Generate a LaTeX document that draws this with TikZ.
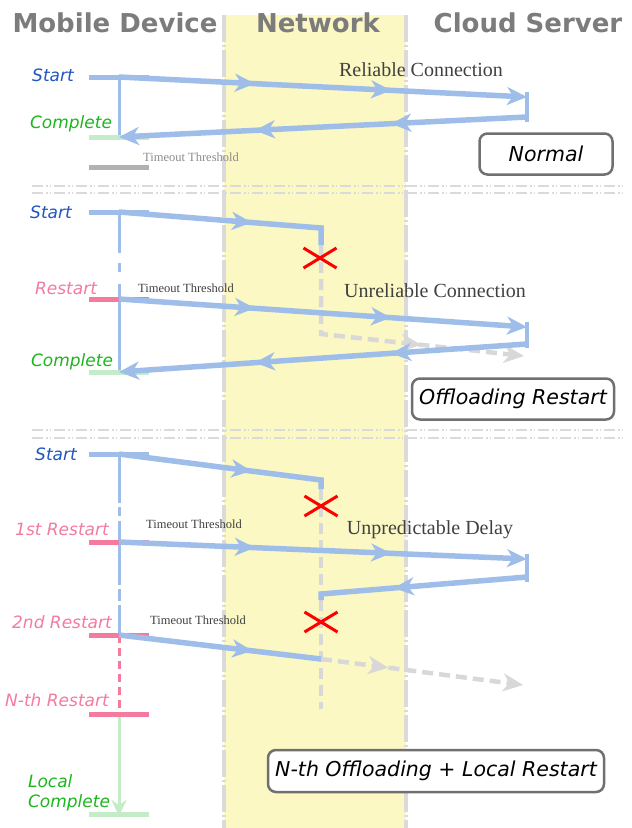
\documentclass[tikz,border=0pt]{standalone}
\usepackage{fontspec}
\setmainfont{Liberation Serif}
\setsansfont{DejaVu Sans}
\usetikzlibrary{arrows.meta,decorations.markings,shapes.misc,positioning}

\definecolor{lblue}{RGB}{158,190,233}
\definecolor{sblue}{RGB}{32,86,190}
\definecolor{cgreen}{RGB}{28,182,28}
\definecolor{lgreen}{RGB}{196,236,200}
\definecolor{lpink}{RGB}{244,122,158}
\definecolor{band}{RGB}{251,248,196}
\definecolor{edgegray}{RGB}{218,218,218}
\definecolor{hgray}{RGB}{124,124,124}
\definecolor{dgray}{RGB}{216,216,216}
\definecolor{boxgray}{RGB}{112,112,112}
\definecolor{cgray}{RGB}{64,64,64}

\begin{document}
\begin{tikzpicture}
  [
   x=1pt,y=-1pt,
   >={Stealth[length=20pt,width=18pt,inset=6pt]},
   hd/.style={font=\sffamily\bfseries\fontsize{26}{30}\selectfont,text=hgray,inner sep=0pt},
   bl/.style={font=\sffamily\itshape\fontsize{17}{20}\selectfont,text=sblue,inner sep=0pt},
   gl/.style={bl,text=cgreen},
   pl/.style={bl,text=lpink},
   tt/.style={font=\fontsize{12.5}{14}\selectfont,text=cgray,inner sep=0pt},
   cn/.style={font=\fontsize{20}{24}\selectfont,text=cgray,inner sep=0pt},
   bx/.style={draw=boxgray,line width=2.5pt,rounded corners=8pt,fill=white,
              font=\sffamily\itshape\fontsize{20.5}{24}\selectfont,inner sep=0pt,minimum height=41pt},
   ln/.style={line width=5.5pt,draw=lblue,color=lblue},
   tl/.style={line width=3pt,draw=lblue},
   gd/.style={line width=4.5pt,draw=dgray,color=dgray,dash pattern=on 11pt off 6pt},
   tbar/.style={line width=5pt},
   xm/.style={cross out,draw=red,line width=3pt,minimum width=30pt,minimum height=17pt,inner sep=0pt},
   edge/.style={line width=4pt,draw=edgegray,dash pattern=on 27pt off 3pt on 2pt off 3pt},
   sep/.style={line width=2.5pt,draw=edgegray,dash pattern=on 11pt off 3pt on 1.5pt off 2pt on 1.5pt off 3pt},
   m1/.style={postaction={decorate},decoration={markings,mark=at position #1 with {\arrow{>}}}},
   m2/.style 2 args={postaction={decorate},decoration={markings,
      mark=at position #1 with {\arrow{>}},mark=at position #2 with {\arrow{>}}}}
  ]
   \useasboundingbox (0,0) rectangle (632,828);

   \fill[band] (224,15) rectangle (406,828);
   \draw[edge] (224,15) -- (224,828);
   \draw[edge] (406,15) -- (406,828);
   \foreach \y in {186,193,430,438}
     \draw[sep] (32,\y) -- (626,\y);

   \node[hd] (hmob) at (115,23) {Mobile Device};
   \node[hd] (hnet) at (318,23) {Network};
   \node[hd] (hcld) at (528,23) {Cloud Server};

   % normal
   \coordinate (s1) at (119,77);
   \coordinate (e1) at (119,137);
   \coordinate (t1) at (119,167);
   \coordinate (srv1in) at (527,97);
   \coordinate (srv1out) at (527,117);
   \coordinate (srv1top) at (527,92);
   \coordinate (srv1bot) at (527,122);

   \draw[tl] (s1) -- (e1);
   \draw[tbar,lblue] ([xshift=-30]s1) -- ([xshift=30]s1);
   \draw[tbar,lgreen] ([xshift=-30]e1) -- ([xshift=30]e1);
   \draw[tbar,black!30] ([xshift=-30]t1) -- ([xshift=30]t1);
   \draw[ln,->,m2={0.333}{0.667}] (s1) -- (srv1in);
   \draw[ln,line width=4pt] (srv1top) -- (srv1bot);
   \draw[ln,->,m2={0.333}{0.667}] (srv1out) -- (e1);

   \node[bl] (st1) at (53,75) {Start};
   \node[gl] (cp1) at (71,124) {Complete};
   \node[tt,text=black!45] (to1) at (191,157) {Timeout Threshold};
   \node[cn] (rc1) at (421,70) {Reliable Connection};
   \node[bx,minimum width=133pt] (nm1) at (546,154) {Normal};

   % offloading restart
   \coordinate (s2) at (119,212);
   \coordinate (drop2) at (321,228);
   \coordinate (lost2) at (321,245);
   \coordinate (turn2) at (321,334);
   \coordinate (miss2) at (524,356);
   \coordinate (r2) at (119,299);
   \coordinate (e2) at (119,372);
   \coordinate (srv2in) at (527,327);
   \coordinate (srv2out) at (527,344);
   \coordinate (srv2top) at (527,322);
   \coordinate (srv2bot) at (527,348);

   \draw[tl,dash pattern=on 41pt off 10pt on 9pt off 12pt on 200pt] (s2) -- (e2);
   \draw[gd,->,m1={0.647}] (lost2) -- (turn2) -- (miss2);
   \draw[tbar,lblue] ([xshift=-30]s2) -- ([xshift=30]s2);
   \draw[tbar,lpink] ([xshift=-30]r2) -- ([xshift=30]r2);
   \draw[tbar,lgreen] ([xshift=-30]e2) -- ([xshift=30]e2);
   \draw[ln,m1={0.607}] (s2) -- (drop2) -- (lost2);
   \draw[ln,->,m2={0.333}{0.667}] (r2) -- (srv2in);
   \draw[ln,line width=4pt] (srv2top) -- (srv2bot);
   \draw[ln,->,m2={0.333}{0.667}] (srv2out) -- (e2);
   \node[xm] (x2) at (320,258) {};

   \node[bl] (st2) at (51,212) {Start};
   \node[pl] (rs2) at (66,288) {Restart};
   \node[gl] (cp2) at (72,362) {Complete};
   \node[tt] (to2) at (186,288) {Timeout Threshold};
   \node[cn] (uc2) at (435,291) {Unreliable Connection};
   \node[bx,minimum width=202pt] (of2) at (513,399) {Offloading Restart};

   % n-th offloading + local restart
   \coordinate (s3) at (119,454);
   \coordinate (drop3) at (321,480);
   \coordinate (lost3) at (321,489);
   \coordinate (end3) at (321,590);
   \coordinate (r31) at (119,542);
   \coordinate (srv3in) at (527,559);
   \coordinate (srv3out) at (527,577);
   \coordinate (srv3top) at (527,554);
   \coordinate (srv3bot) at (527,582);
   \coordinate (back3) at (321,594);
   \coordinate (lost3b) at (321,600);
   \coordinate (end3b) at (321,709);
   \coordinate (r32) at (119,635);
   \coordinate (drop32) at (321,659);
   \coordinate (miss3) at (523,685);
   \coordinate (rn3) at (119,714);
   \coordinate (lc3) at (119,814);

   \draw[tl,dash pattern=on 49pt off 4pt on 9pt off 5pt on 64pt off 4pt on 12pt off 4pt on 100pt] (s3) -- (r32);
   \draw[line width=3pt,lpink,dash pattern=on 8pt off 5pt] (r32) -- (rn3);
   \draw[line width=3pt,lgreen,-{Stealth[length=16pt,width=15pt,inset=5pt]}] (rn3) -- ([yshift=-2]lc3);
   \draw[gd] (lost3) -- (end3);
   \draw[gd] (lost3b) -- (end3b);
   \draw[gd,->,m1={0.333}] (drop32) -- (miss3);
   \draw[tbar,lblue] ([xshift=-30]s3) -- ([xshift=30]s3);
   \draw[tbar,lpink] ([xshift=-30]r31) -- ([xshift=30]r31);
   \draw[tbar,lpink] ([xshift=-30]r32) -- ([xshift=30]r32);
   \draw[tbar,lpink] ([xshift=-30]rn3) -- ([xshift=30]rn3);
   \draw[tbar,lgreen] ([xshift=-30]lc3) -- ([xshift=30]lc3);
   \draw[ln,m1={0.628}] (s3) -- (drop3) -- (lost3);
   \draw[ln,->,m2={0.333}{0.667}] (r31) -- (srv3in);
   \draw[ln,line width=4pt] (srv3top) -- (srv3bot);
   \draw[ln,m1={0.628}] (srv3out) -- (back3) -- (lost3b);
   \draw[ln,m1={0.66}] (r32) -- (drop32);
   \node[xm] (x31) at (321,506) {};
   \node[xm] (x32) at (321,622) {};

   \node[bl] (st3) at (56,454) {Start};
   \node[pl] (rs31) at (62,529) {1st Restart};
   \node[tt] (to31) at (194,524) {Timeout Threshold};
   \node[cn] (ud3) at (430,530) {Unpredictable Delay};
   \node[pl] (rs32) at (62,622) {2nd Restart};
   \node[tt] (to32) at (198,620) {Timeout Threshold};
   \node[pl] (rsn3) at (57,700) {N-th Restart};
   \node[gl,align=left] (lcp3) at (69,793) {Local\\Complete};
   \node[bx,minimum width=336pt,minimum height=42pt] (nt3) at (436,771) {N-th Offloading + Local Restart};
\end{tikzpicture}
\end{document}
